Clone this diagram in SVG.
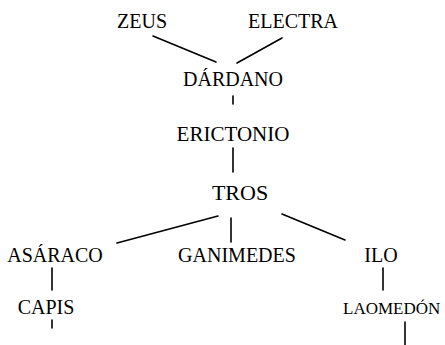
<svg xmlns="http://www.w3.org/2000/svg" width="445" height="345" viewBox="0 0 445 345">
<style>
text{font-family:"Liberation Serif","Times New Roman",serif;font-size:20px;fill:#000}
.c line{stroke:#000;stroke-width:1.6;stroke-linecap:round}
</style>
<rect width="445" height="345" fill="#fff"/>
<g class="c" id="connectors">
<line x1="153" y1="36" x2="216" y2="62"/>
<line x1="282" y1="38" x2="237" y2="63"/>
<line x1="233" y1="96" x2="233" y2="104"/>
<line x1="233" y1="148" x2="233" y2="172"/>
<line x1="218" y1="216" x2="117" y2="243"/>
<line x1="231" y1="218" x2="231" y2="242"/>
<line x1="282" y1="214" x2="345" y2="240"/>
<line x1="52" y1="268" x2="52" y2="290"/>
<line x1="383" y1="268" x2="383" y2="290"/>
<line x1="52" y1="320" x2="52" y2="328"/>
<line x1="405" y1="322" x2="405" y2="345"/>
</g>
<g id="zeus"><text x="117" y="28">ZEUS</text></g>
<g id="electra"><text x="248" y="28">ELECTRA</text></g>
<g id="dardano"><text x="233" y="86" text-anchor="middle">DÁRDANO</text></g>
<g id="erictonio"><text x="233" y="141" text-anchor="middle" style="font-size:21px">ERICTONIO</text></g>
<g id="tros"><text x="240" y="200" text-anchor="middle" style="font-size:22px">TROS</text></g>
<g id="asaraco"><text x="55" y="262" text-anchor="middle">ASÁRACO</text></g>
<g id="ganimedes"><text x="237" y="262" text-anchor="middle">GANIMEDES</text></g>
<g id="ilo"><text x="381" y="262" text-anchor="middle">ILO</text></g>
<g id="capis"><text x="46" y="314" text-anchor="middle">CAPIS</text></g>
<g id="laomedon"><text x="343" y="314" style="font-size:17px">LAOMEDÓN</text></g>
</svg>
